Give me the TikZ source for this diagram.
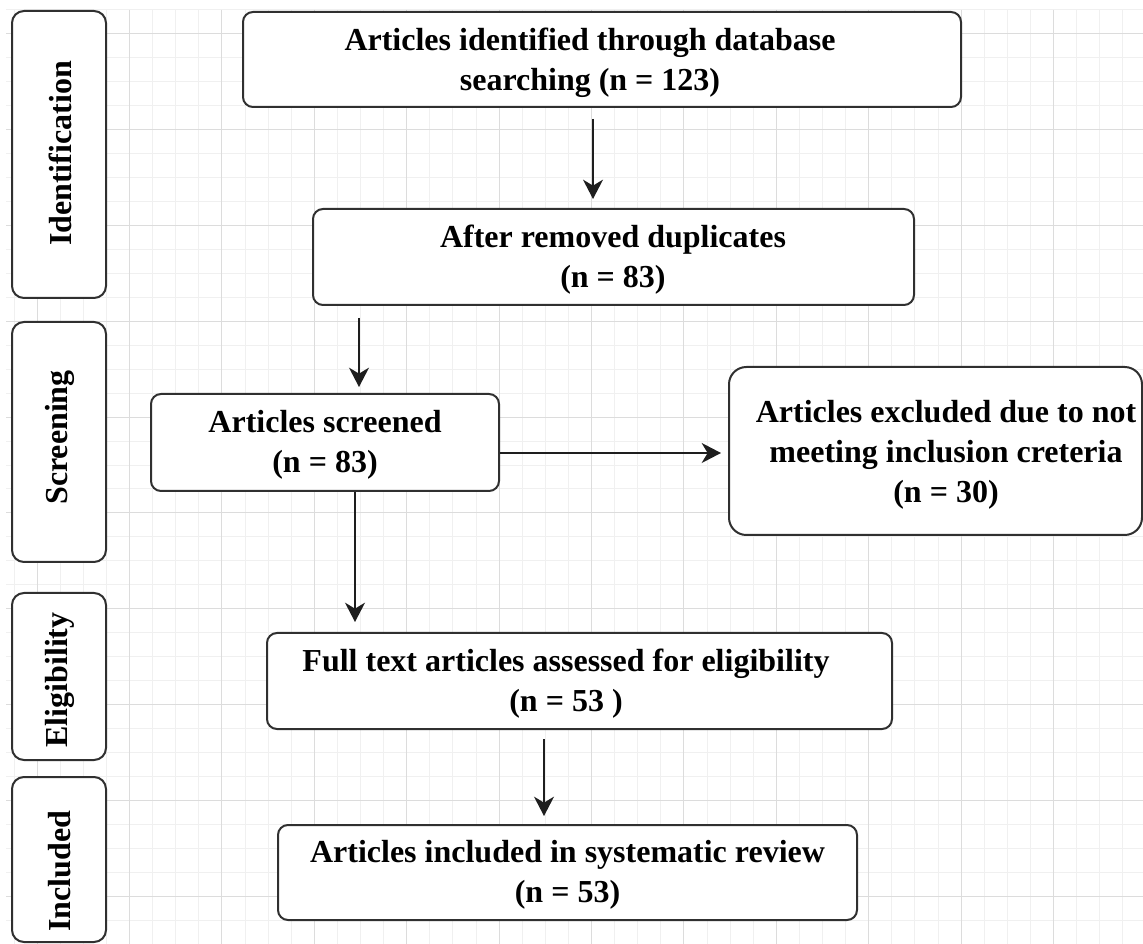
\documentclass[tikz,border=0pt]{standalone}
\usepackage{fontspec}
\setmainfont{Liberation Serif}
\usetikzlibrary{arrows.meta,calc}
\definecolor{gridmaj}{HTML}{DCDCDC}
\definecolor{gridmin}{HTML}{F0F0F0}
\definecolor{boxline}{HTML}{303030}
\definecolor{arrcol}{HTML}{1E1E1E}
\begin{document}
\begin{tikzpicture}[x=0.75pt,y=-0.75pt,
  box/.style={draw=boxline, line width=1.5pt, fill=white, rounded corners=7.5pt, inner sep=0pt},
  sidebox/.style={box, rounded corners=9pt, minimum width=70.5pt},
  txt/.style={font=\bfseries\fontsize{24}{30}\selectfont, align=center, inner sep=0pt, text=black},
  side/.style={txt, rotate=90},
  arr/.style={draw=arrcol, line width=1.5pt, -{Stealth[length=14.5pt,width=15pt,inset=4.5pt]}}]

\useasboundingbox (0,0) rectangle (1143,944);
\fill[white] (0,0) rectangle (1143,944);

% grid
\begin{scope}
\clip (6,10) rectangle (1143,944);
\foreach \k in {-5,...,43} {\draw[gridmin, line width=0.75pt] ({129.5+23.1*\k},10) -- ({129.5+23.1*\k},944);}
\foreach \k in {0,...,39} {\draw[gridmin, line width=0.75pt] (6,{10+23.95*\k}) -- (1143,{10+23.95*\k});}
\foreach \k in {-1,...,11} {\draw[gridmaj, line width=0.75pt] ({129.5+92.4*\k},10) -- ({129.5+92.4*\k},944);}
\foreach \k in {0,...,9} {\draw[gridmaj, line width=0.75pt] (6,{34+95.8*\k}) -- (1143,{34+95.8*\k});}
\end{scope}

% phase boxes
\node[sidebox, minimum height=215.25pt] (idn) at (59,154.5) {};
\node[sidebox, minimum height=180pt] (scn) at (59,442) {};
\node[sidebox, minimum height=125.25pt] (elg) at (59,676.5) {};
\node[sidebox, minimum height=123.75pt] (incl) at (59,859.5) {};
\node[side] (tidn) at (60,153.5) {Identification};
\node[side] (tscn) at (60,437.5) {Screening};
\node[side] (telg) at (60,680) {Eligibility};
\node[side] (tincl) at (60,871) {Included};

% flow boxes
\node[box, minimum width=538.5pt, minimum height=71.25pt] (top) at (602,59.5) {};
\node[box, minimum width=450.75pt, minimum height=72pt] (dup) at (613.5,257) {};
\node[box, minimum width=261pt, minimum height=72.75pt] (scr) at (325,442.5) {};
\node[box, rounded corners=13pt, minimum width=309.75pt, minimum height=126pt] (exc) at (935.5,451) {};
\node[box, minimum width=468.75pt, minimum height=72pt] (full) at (579.5,681) {};
\node[box, minimum width=434.25pt, minimum height=71.25pt] (inc) at (567.5,872.5) {};

\node[txt] (ttop) at (590,63) {Articles identified through database\\searching (n = 123)};
\node[txt] (tdup) at (613,260) {After removed duplicates\\(n = 83)};
\node[txt] (tscr) at (325,445) {Articles screened\\(n = 83)};
\node[txt] (texc) at (946,455) {Articles excluded due to not\\meeting inclusion creteria\\(n = 30)};
\node[txt] (tfull) at (566,684) {Full text articles assessed for eligibility\\(n = 53 )};
\node[txt] (tinc) at (567.5,874.5) {Articles included in systematic review\\(n = 53)};

% connectors
\coordinate (c1) at (593,0);
\coordinate (c2) at (359,0);
\coordinate (c3) at (355,0);
\coordinate (c4) at (0,453);
\coordinate (c5) at (544,0);
\draw[arr, shorten <=8.25pt, shorten >=6.75pt] (top.south -| c1) -- (dup.north -| c1);
\draw[arr, shorten <=9pt, shorten >=4.5pt] (dup.south -| c2) -- (scr.north -| c2);
\draw[arr, shorten >=7.5pt] (scr.south -| c3) -- (full.north -| c3);
\draw[arr, shorten >=5.25pt] (scr.east |- c4) -- (exc.west |- c4);
\draw[arr, shorten <=6.75pt, shorten >=6pt] (full.south -| c5) -- (inc.north -| c5);
\end{tikzpicture}
\end{document}
